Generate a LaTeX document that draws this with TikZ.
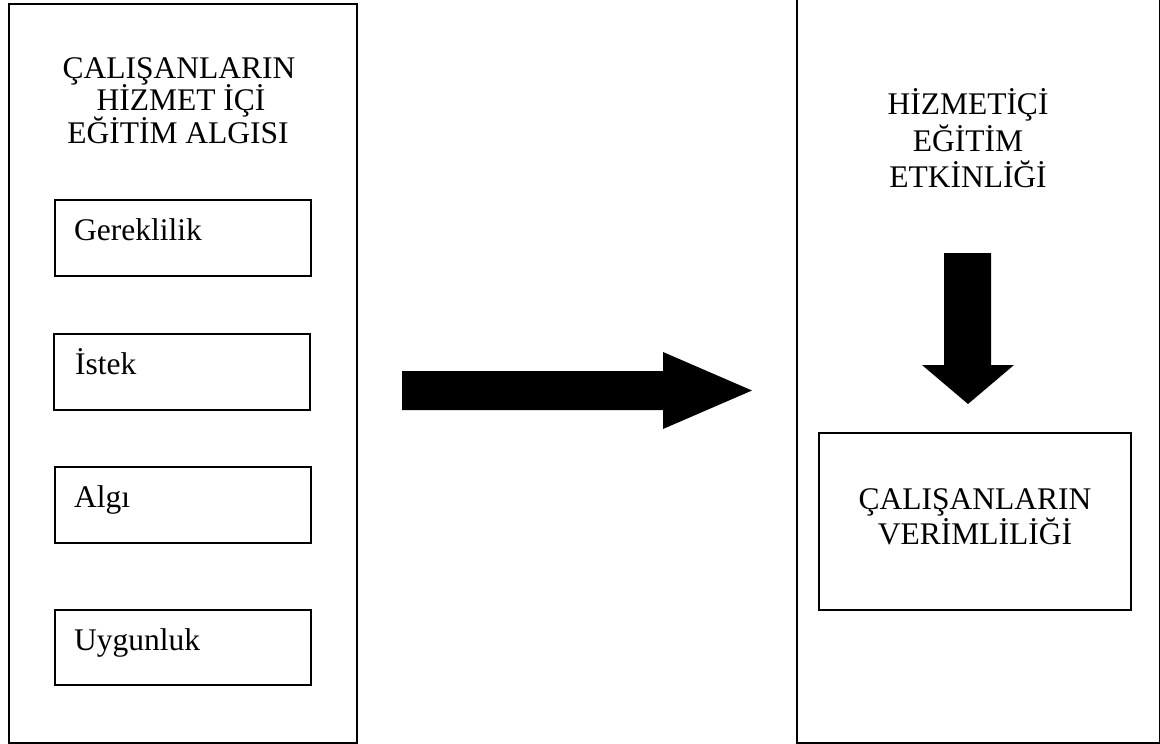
\documentclass[tikz,border=0pt]{standalone}
\usepackage{fontspec}
\setmainfont{Liberation Serif}
\begin{document}
\begin{tikzpicture}[x=1pt,y=-1pt,
  frame/.style={draw=black,line width=1.8pt},
  subbox/.style={draw=black,line width=1.8pt,rectangle,inner sep=0pt,anchor=north west},
  txt/.style={font=\fontsize{31.5}{32.5}\selectfont,inner sep=0pt,anchor=base},
  ltxt/.style={font=\fontsize{31.5}{32.5}\selectfont,inner sep=0pt,anchor=base west},
  blockarrow/.style={fill=black,draw=none}]
\useasboundingbox (0,0) rectangle (1160,744);
\clip (0,0) rectangle (1160,744);
% left frame
\node[subbox,minimum width=348pt,minimum height=739pt] (left) at (8,3) {};
% right frame (top edge outside the picture)
\node[subbox,minimum width=363pt,minimum height=752pt] (right) at (796,-10) {};
% left title
\node[txt] (lt1) at (179,78) {ÇALIŞANLARIN};
\node[txt] (lt2) at (181,110.5) {HİZMET İÇİ};
\node[txt] (lt3) at (178,143) {EĞİTİM ALGISI};
% sub boxes
\node[subbox,minimum width=256pt,minimum height=76pt] (b1) at (54,199) {};
\node[subbox,minimum width=256pt,minimum height=76pt] (b2) at (53,333) {};
\node[subbox,minimum width=256pt,minimum height=76pt] (b3) at (54,466) {};
\node[subbox,minimum width=256pt,minimum height=75pt] (b4) at (54,609) {};
\node[ltxt] (t1) at (74,240) {Gereklilik};
\node[ltxt] (t2) at (75,374) {İstek};
\node[ltxt] (t3) at (74,507) {Algı};
\node[ltxt] (t4) at (74,650) {Uygunluk};
% big right arrow
\coordinate (ra) at (402,390.5);
\coordinate (rb) at (752,390.5);
\fill[blockarrow] (402,371) -- (663,371) -- (663,352) -- (rb) -- (663,429) -- (663,410) -- (402,410) -- cycle;
% right title
\node[txt] (rt1) at (968,114) {HİZMETİÇİ};
\node[txt] (rt2) at (968,151) {EĞİTİM};
\node[txt] (rt3) at (968,187) {ETKİNLİĞİ};
% down arrow
\fill[blockarrow] (944,253) -- (991,253) -- (991,365) -- (1014,365) -- (968,404) -- (922,365) -- (944,365) -- cycle;
% result box
\node[subbox,minimum width=312pt,minimum height=177pt] (res) at (818,432) {};
\node[txt] (r1) at (975,509) {ÇALIŞANLARIN};
\node[txt] (r2) at (975,544) {VERİMLİLİĞİ};
\end{tikzpicture}
\end{document}
